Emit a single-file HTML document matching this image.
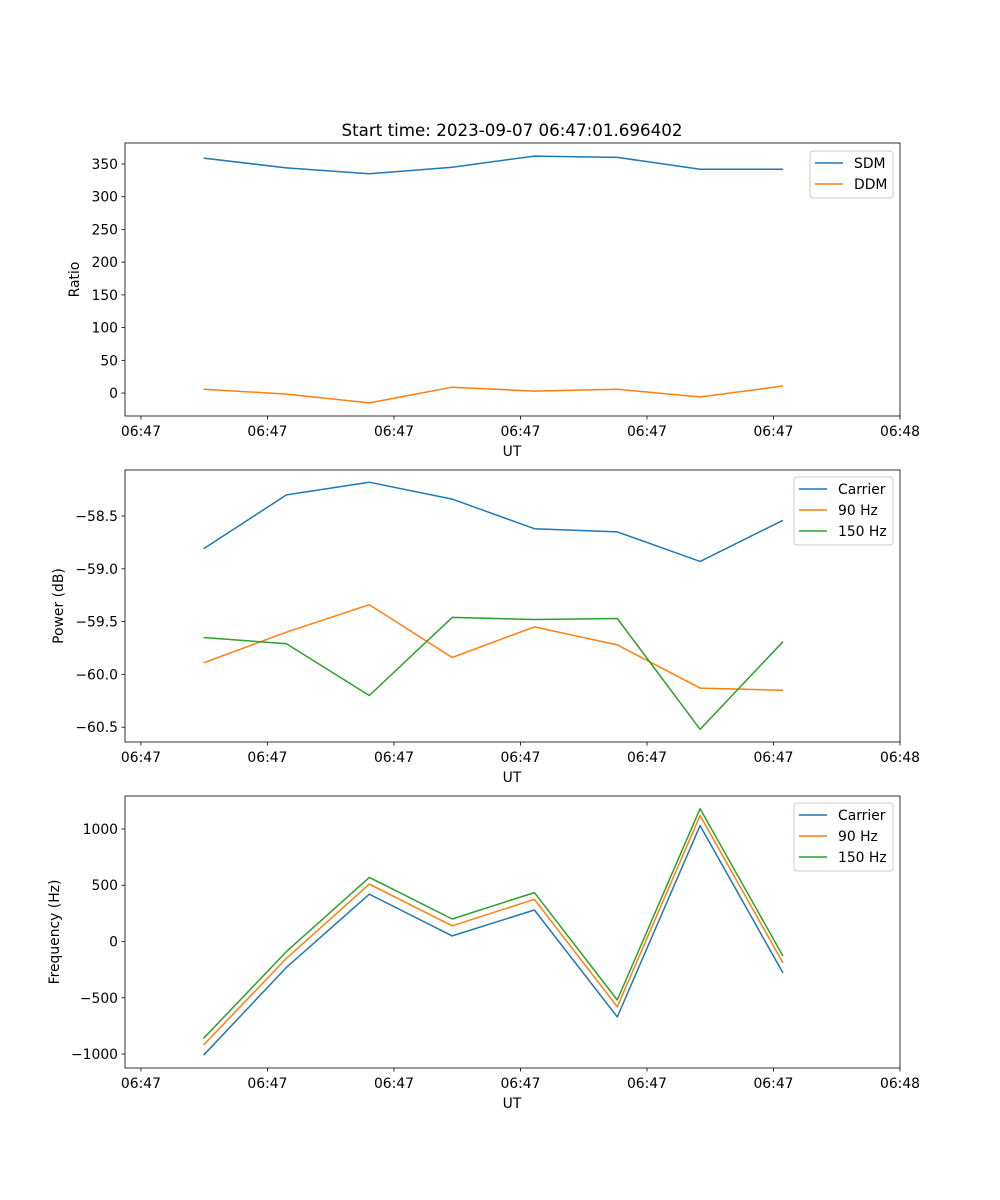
<!DOCTYPE html>
<html><head><meta charset="utf-8"><style>
body{margin:0;background:#fff}
svg{display:block;font-family:"DejaVu Sans","Liberation Sans",sans-serif}
</style></head><body>
<svg id="fig" width="1000" height="1200" viewBox="0 0 1000 1200"></svg>
<script>
const times = [4.95, 11.5, 18.05, 24.6, 31.1, 37.65, 44.2, 50.75];
const xTickVals = [0, 10, 20, 30, 40, 50, 60];
const xTickLabels = ["06:47","06:47","06:47","06:47","06:47","06:47","06:48"];
const sdm = [359, 344, 335, 345, 362, 360, 342, 342];
const ddm = [6, -1.5, -15, 9, 3, 6, -6, 11];
const powCarrier = [-58.81, -58.30, -58.18, -58.34, -58.62, -58.65, -58.93, -58.54];
const pow90 = [-59.89, -59.60, -59.34, -59.84, -59.55, -59.72, -60.13, -60.15];
const pow150 = [-59.65, -59.71, -60.20, -59.46, -59.48, -59.47, -60.52, -59.69];
const frqCarrier = [-1010, -230, 420, 50, 280, -670, 1030, -280];
const frq90 = [-920, -150, 510, 140, 375, -580, 1120, -190];
const frq150 = [-860, -90, 570, 200, 435, -520, 1180, -130];
const yTicks1 = [0, 50, 100, 150, 200, 250, 300, 350];
const yTicks2 = [-60.5, -60.0, -59.5, -59.0, -58.5];
const yTicks3 = [-1000, -500, 0, 500, 1000];

const NS = "http://www.w3.org/2000/svg";
const svg = document.getElementById('fig');
function mk(tag, attrs, parent, name, text){
  const e = document.createElementNS(NS, tag);
  for (const k in attrs) e.setAttribute(k, attrs[k]);
  
  
  if (text !== undefined) e.textContent = text;
  (parent || svg).appendChild(e);
  return e;
}
const L = 125, R = 900, XMIN = -1.26, XMAX = 60;
const sx = v => L + (v - XMIN) / (XMAX - XMIN) * (R - L);
const C = {blue:'#1f77b4', orange:'#ff7f0e', green:'#2ca02c'};

function panel(name, top, bot, ymin, ymax, yTicks, fmt, ylabel, ylabelX, series, legend){
  const g = mk('g', {}, svg, name + '-panel');
  const sy = v => bot - (v - ymin) / (ymax - ymin) * (bot - top);
  series.forEach(s => {
    const pts = times.map((t, i) => sx(t).toFixed(1) + ',' + sy(s.vals[i]).toFixed(1)).join(' ');
    mk('polyline', {points: pts, fill: 'none', stroke: s.color, 'stroke-width': 1.5, 'stroke-linejoin':'round'}, g, s.name + '-line');
  });
  mk('rect', {x: L, y: top, width: R - L, height: bot - top, fill: 'none', stroke: '#000', 'stroke-width': 0.8}, g, name + '-axes-frame');
  xTickVals.forEach((v, i) => {
    const x = sx(v);
    mk('line', {x1: x, x2: x, y1: bot, y2: bot + 3.5, stroke: '#000', 'stroke-width': 0.8}, g, 'x-tick');
    mk('text', {x: x, y: bot + 20, 'font-size': 13.9, 'text-anchor': 'middle', fill: '#000'}, g, 'x-tick-label', xTickLabels[i]);
  });
  mk('text', {x: 512, y: bot + 40, 'font-size': 13.9, 'text-anchor': 'middle'}, g, 'x-axis-title', 'UT');
  yTicks.forEach(v => {
    const y = sy(v);
    mk('line', {x1: L - 3.5, x2: L, y1: y, y2: y, stroke: '#000', 'stroke-width': 0.8}, g, 'y-tick');
    mk('text', {x: L - 7, y: y + 5, 'font-size': 13.9, 'text-anchor': 'end'}, g, 'y-tick-label', fmt(v));
  });
  const cy = (top + bot) / 2;
  mk('text', {x: ylabelX, y: cy, 'font-size': 13.9, 'text-anchor': 'middle', transform: `rotate(-90 ${ylabelX} ${cy})`}, g, 'y-axis-title', ylabel);
  const lg = mk('g', {}, g, name + '-legend');
  mk('rect', {x: legend.x, y: legend.y, width: legend.w, height: 5 + series.length * 21, fill: '#fff', 'fill-opacity': 0.8, stroke: '#ccc', rx: 3}, lg, 'legend-box');
  series.forEach((s, i) => {
    const y = legend.y + 12 + i * 21;
    mk('line', {x1: legend.x + 5, x2: legend.x + 33, y1: y, y2: y, stroke: s.color, 'stroke-width': 1.5}, lg, 'legend-swatch');
    mk('text', {x: legend.x + 44, y: y + 5, 'font-size': 13.9}, lg, 'legend-entry', s.label);
  });
}

mk('text', {x: 512, y: 136, 'font-size': 16.7, 'text-anchor': 'middle'}, svg, 'chart-title', 'Start time: 2023-09-07 06:47:01.696402');

panel('ratio', 143, 416, -35, 382, yTicks1, v => String(v), 'Ratio', 79,
  [{name:'sdm', label:'SDM', vals:sdm, color:C.blue},{name:'ddm', label:'DDM', vals:ddm, color:C.orange}],
  {x: 810, y: 151, w: 83});
panel('power', 470, 742, -60.64, -58.064, yTicks2, v => (v.toFixed(1)).replace('-', '\u2212'), 'Power (dB)', 63,
  [{name:'carrier', label:'Carrier', vals:powCarrier, color:C.blue},{name:'90hz', label:'90 Hz', vals:pow90, color:C.orange},{name:'150hz', label:'150 Hz', vals:pow150, color:C.green}],
  {x: 794, y: 477, w: 99});
panel('frequency', 796, 1068, -1124, 1293, yTicks3, v => String(v).replace('-', '\u2212'), 'Frequency (Hz)', 59,
  [{name:'carrier', label:'Carrier', vals:frqCarrier, color:C.blue},{name:'90hz', label:'90 Hz', vals:frq90, color:C.orange},{name:'150hz', label:'150 Hz', vals:frq150, color:C.green}],
  {x: 794, y: 803, w: 99});
</script>
</body></html>
